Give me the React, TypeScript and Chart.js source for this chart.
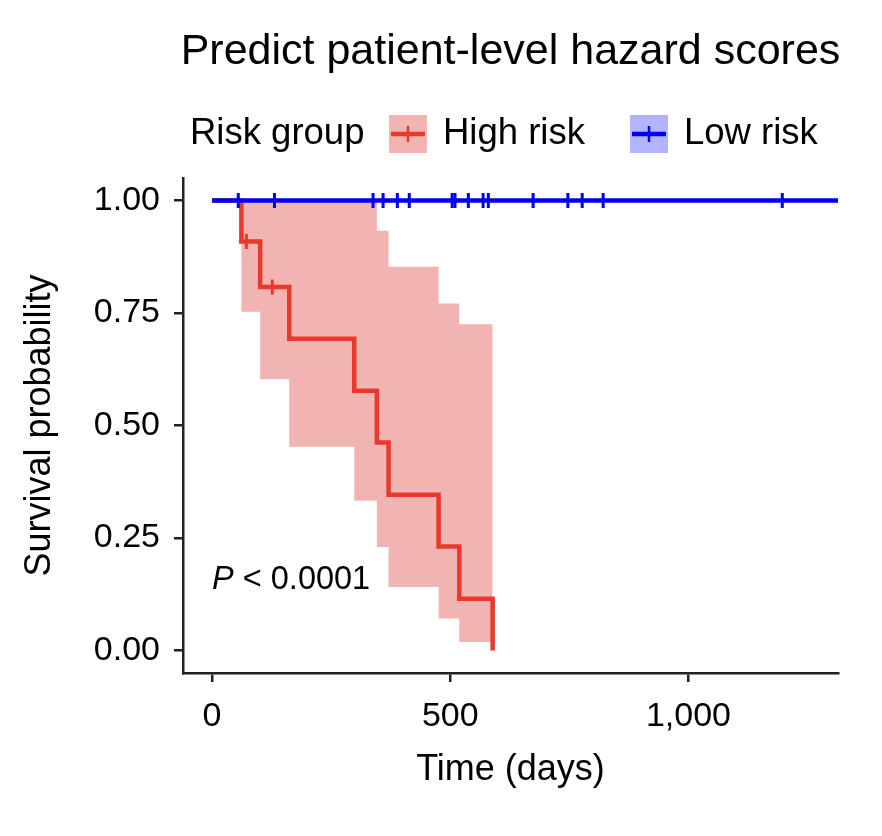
import React, { useEffect, useRef } from 'react';
import { Chart, registerables } from 'chart.js';

Chart.register(...registerables);

const FONT = "'Liberation Sans', Arial, Helvetica, sans-serif";

const titleText = 'Predict patient-level hazard scores';
const legendTitle = 'Risk group';
const groupNames = ['High risk', 'Low risk'];
const xLabel = 'Time (days)';
const yLabel = 'Survival probability';
const pLetter = 'P';
const pRest = ' < 0.0001';

// High-risk Kaplan-Meier curve (step changes) and its confidence band
const highTimes = [0, 61.5, 101, 162, 298.5, 346, 370.5, 475.5, 519, 589];
const highSurv = [1, 0.909, 0.808, 0.693, 0.577, 0.462, 0.346, 0.231, 0.115, 0];
const highUpper = [1, 1, 1, 1, 1, 0.933, 0.853, 0.771, 0.725, 0.725];
const highLower = [1, 0.753, 0.603, 0.453, 0.333, 0.23, 0.141, 0.071, 0.019, 0.019];
const highCensorTimes = [72, 126.5];
const highCensorSurv = [0.909, 0.808];

// Low-risk curve
const lowTimes = [0, 1314];
const lowSurv = [1, 1];
const lowCensorTimes = [55, 131, 338, 359, 389, 414, 504, 510, 538, 569, 580, 674, 747, 777, 821, 1197];
const lowCensorSurv = [1, 1, 1, 1, 1, 1, 1, 1, 1, 1, 1, 1, 1, 1, 1, 1];

const xTicks = [0, 500, 1000];
const xTickLabels = ['0', '500', '1,000'];
const yTicks = [0, 0.25, 0.5, 0.75, 1];
const yTickLabels = ['0.00', '0.25', '0.50', '0.75', '1.00'];
const xMin = -61;
const xMax = 1314;
const yMin = -0.05;
const yMax = 1.05;

const RED = '#E8392D';
const RED_BAND = '#F2B4B2';
const BLUE = '#0000F2';
const BLUE_BAND = '#B3B3FF';
const AXIS = '#222222';

const pts = (xs: number[], ys: number[]) => xs.map((x, i) => ({ x, y: ys[i] }));

const overlay = {
  id: 'overlay',
  afterDraw(chart: any) {
    const ctx = chart.ctx as CanvasRenderingContext2D;
    const ca = chart.chartArea;
    ctx.save();
    ctx.fillStyle = '#000';
    // Title
    ctx.font = `43px ${FONT}`;
    ctx.textAlign = 'center';
    ctx.textBaseline = 'middle';
    ctx.fillText(titleText, (ca.left + ca.right) / 2, 52);

    // Legend
    const ly = 134;
    ctx.font = `36.5px ${FONT}`;
    ctx.textAlign = 'left';
    ctx.fillText(legendTitle, 190, ly);
    const items = [
      { x: 389, fill: RED_BAND, line: RED, name: groupNames[0] },
      { x: 630, fill: BLUE_BAND, line: BLUE, name: groupNames[1] },
    ];
    const bw = 38;
    items.forEach((it) => {
      ctx.fillStyle = it.fill;
      ctx.fillRect(it.x, ly - bw / 2, bw, bw);
      ctx.strokeStyle = it.line;
      ctx.lineWidth = 4.5;
      ctx.beginPath();
      ctx.moveTo(it.x + 2, ly);
      ctx.lineTo(it.x + bw - 2, ly);
      ctx.stroke();
      ctx.lineWidth = 2.5;
      ctx.beginPath();
      ctx.moveTo(it.x + bw / 2, ly - 8);
      ctx.lineTo(it.x + bw / 2, ly + 8);
      ctx.stroke();
      ctx.fillStyle = '#000';
      ctx.fillText(it.name, it.x + bw + 16, ly);
    });

    // P value annotation
    const xs = chart.scales.x;
    const ys = chart.scales.y;
    const px = xs.getPixelForValue(0);
    const py = ys.getPixelForValue(0.156);
    ctx.font = `italic 32.5px ${FONT}`;
    ctx.fillText(pLetter, px, py);
    const w = ctx.measureText(pLetter).width;
    ctx.font = `32.5px ${FONT}`;
    ctx.fillText(pRest, px + w, py);
    ctx.restore();
  },
};

export default function App() {
  const ref = useRef<HTMLCanvasElement | null>(null);
  useEffect(() => {
    document.body.style.margin = '0';
    const canvas = ref.current;
    if (!canvas) return;
    const chart = new Chart(canvas, {
      type: 'line',
      data: {
        datasets: [
          {
            label: 'High upper',
            data: pts(highTimes, highUpper),
            stepped: 'before',
            borderWidth: 0,
            borderColor: 'rgba(0,0,0,0)',
            backgroundColor: RED_BAND,
            pointRadius: 0,
            fill: '+1',
            order: 10,
          },
          {
            label: 'High lower',
            data: pts(highTimes, highLower),
            stepped: 'before',
            borderWidth: 0,
            borderColor: 'rgba(0,0,0,0)',
            pointRadius: 0,
            fill: false,
            order: 11,
          },
          {
            label: groupNames[0],
            data: pts(highTimes, highSurv),
            stepped: 'before',
            borderWidth: 4.5,
            borderColor: RED,
            pointRadius: 0,
            fill: false,
            order: 5,
          },
          {
            label: groupNames[0] + ' censored',
            data: pts(highCensorTimes, highCensorSurv),
            showLine: false,
            pointStyle: 'cross',
            pointRadius: 7.5,
            pointBorderWidth: 3,
            pointBorderColor: RED,
            borderColor: RED,
            order: 4,
          },
          {
            label: groupNames[1],
            data: pts(lowTimes, lowSurv),
            stepped: 'before',
            borderWidth: 4.5,
            borderColor: BLUE,
            pointRadius: 0,
            fill: false,
            order: 3,
          },
          {
            label: groupNames[1] + ' censored',
            data: pts(lowCensorTimes, lowCensorSurv),
            showLine: false,
            pointStyle: 'cross',
            pointRadius: 7.5,
            pointBorderWidth: 3,
            pointBorderColor: BLUE,
            borderColor: BLUE,
            order: 2,
          },
        ],
      },
      options: {
        responsive: false,
        animation: false,
        devicePixelRatio: 1,
        layout: { padding: { top: 178, right: 44, bottom: 0, left: 0 } },
        plugins: {
          legend: { display: false },
          tooltip: { enabled: false },
          title: { display: false },
        },
        scales: {
          x: {
            type: 'linear',
            min: xMin,
            max: xMax,
            afterBuildTicks: (s: any) => {
              s.ticks = xTicks.map((v) => ({ value: v }));
            },
            afterFit: (s: any) => {
              s.height = 163;
              s.paddingLeft = 0;
              s.paddingRight = 0;
            },
            ticks: {
              callback: (v: any) => xTickLabels[xTicks.indexOf(Number(v))],
              font: { family: FONT, size: 34 },
              color: '#000',
              padding: 14,
              maxRotation: 0,
              autoSkip: false,
            },
            grid: { drawOnChartArea: false, drawTicks: true, tickLength: 9, color: AXIS, lineWidth: 2.5 },
            border: { display: true, color: AXIS, width: 2.5 },
            title: {
              display: true,
              text: xLabel,
              font: { family: FONT, size: 36 },
              color: '#000',
              padding: { top: 0, bottom: 44 },
            },
          },
          y: {
            type: 'linear',
            min: yMin,
            max: yMax,
            afterBuildTicks: (s: any) => {
              s.ticks = yTicks.map((v) => ({ value: v }));
            },
            afterFit: (s: any) => {
              s.width = 183;
              s.paddingTop = 0;
              s.paddingBottom = 0;
            },
            ticks: {
              callback: (v: any) => yTickLabels[yTicks.indexOf(Number(v))],
              font: { family: FONT, size: 34 },
              color: '#000',
              padding: 14,
              autoSkip: false,
            },
            grid: { drawOnChartArea: false, drawTicks: true, tickLength: 9, color: AXIS, lineWidth: 2.5 },
            border: { display: true, color: AXIS, width: 2.5 },
            title: {
              display: true,
              text: yLabel,
              font: { family: FONT, size: 36 },
              color: '#000',
              padding: { top: 18, bottom: 0 },
            },
          },
        },
      },
      plugins: [overlay],
    } as any);
    return () => chart.destroy();
  }, []);
  return (
    <div style={{ position: 'fixed', left: 0, top: 0, width: 882, height: 836, background: '#fff' }}>
      <canvas ref={ref} width={882} height={836} style={{ width: 882, height: 836 }} />
    </div>
  );
}
